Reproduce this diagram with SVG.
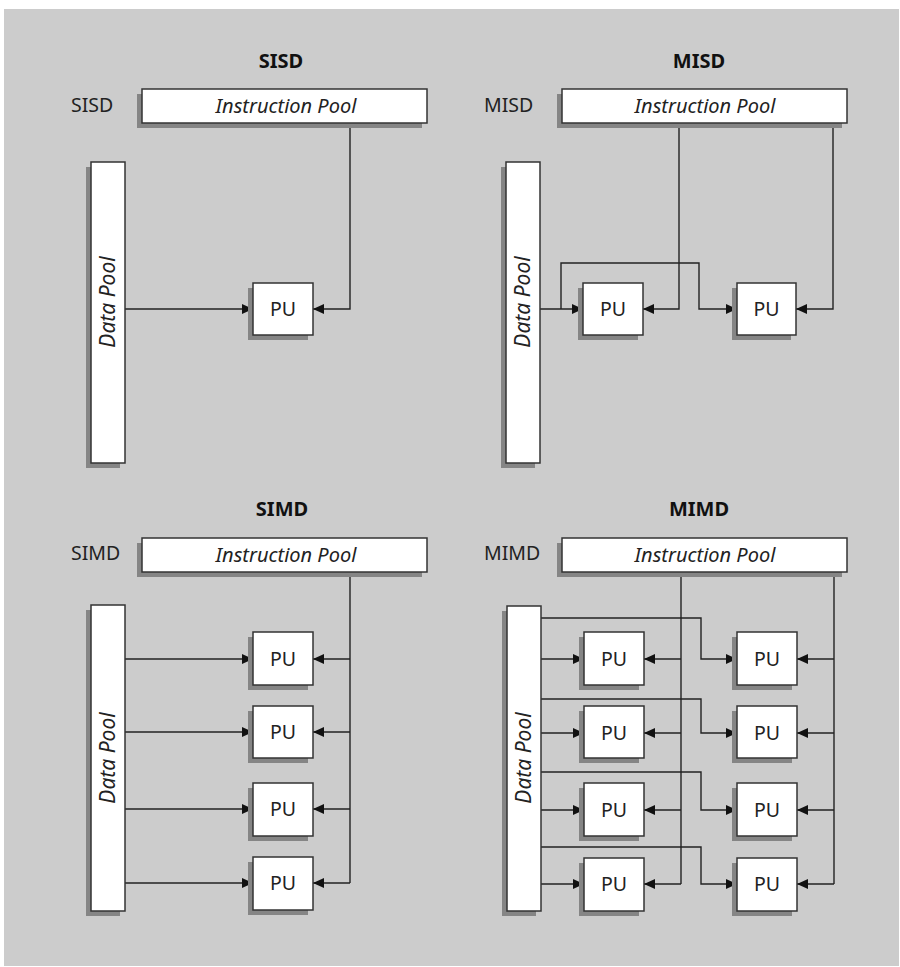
<svg xmlns="http://www.w3.org/2000/svg" width="900" height="967" viewBox="0 0 900 967">
  <defs>
    <marker id="arrow" viewBox="0 0 11 10" refX="11" refY="5" markerWidth="11" markerHeight="10" markerUnits="userSpaceOnUse" orient="auto">
      <path d="M0,0 L11,5 L0,10 Z" fill="#111"/>
    </marker>
    <style>
      .box { fill: #ffffff; stroke: #333333; stroke-width: 1.5; }
      .shadow { fill: #858585; }
      .wire { fill: none; stroke: #222222; stroke-width: 1.4; }
      .arr { marker-end: url(#arrow); }
      .title { font-family: "Noto Sans", "Open Sans", sans-serif; font-weight: bold; font-size: 20px; fill: #111; text-anchor: middle; }
      .tag { font-family: "Noto Sans", "Open Sans", sans-serif; font-size: 19.5px; fill: #222; }
      .pool { font-family: "Noto Sans", "Open Sans", sans-serif; font-style: italic; font-size: 20px; fill: #222; text-anchor: middle; }
      .vpool { font-size: 21px; }
      .pu { font-family: "Noto Sans", "Open Sans", sans-serif; font-size: 19.5px; fill: #222; text-anchor: middle; }
    </style>
  </defs>

  <!-- backdrop -->
  <rect x="4" y="9" width="895" height="957" fill="#cccccc"/>

  <!-- headings and side labels -->
  <g id="labels">
    <text class="title" x="281" y="68">SISD</text>
    <text class="title" x="699" y="68">MISD</text>
    <text class="title" x="282" y="516">SIMD</text>
    <text class="title" x="699" y="516">MIMD</text>
    <text class="tag" x="71" y="112">SISD</text>
    <text class="tag" x="484" y="112">MISD</text>
    <text class="tag" x="71" y="560">SIMD</text>
    <text class="tag" x="484" y="560">MIMD</text>
  </g>

  <!-- connectors -->
  <g id="connectors">
    <!-- SISD -->
    <path class="wire arr" d="M125,309 H253"/>
    <path class="wire arr" d="M350,123 V309 H313"/>

    <!-- MISD -->
    <path class="wire arr" d="M540,309 H583"/>
    <path class="wire arr" d="M561,309 V263 H699 V309 H737"/>
    <path class="wire arr" d="M679,123 V309 H643"/>
    <path class="wire arr" d="M833,123 V309 H796"/>

    <!-- SIMD -->
    <path class="wire arr" d="M125,659 H253"/>
    <path class="wire arr" d="M125,732 H253"/>
    <path class="wire arr" d="M125,809 H253"/>
    <path class="wire arr" d="M125,883 H253"/>
    <path class="wire" d="M350,572 V883"/>
    <path class="wire arr" d="M350,659 H313"/>
    <path class="wire arr" d="M350,732 H313"/>
    <path class="wire arr" d="M350,809 H313"/>
    <path class="wire arr" d="M350,883 H313"/>

    <!-- MIMD -->
    <path class="wire arr" d="M541,659 H584"/>
    <path class="wire arr" d="M541,733 H584"/>
    <path class="wire arr" d="M541,810 H584"/>
    <path class="wire arr" d="M541,884 H584"/>
    <path class="wire arr" d="M541,618 H701 V659 H737"/>
    <path class="wire arr" d="M541,699 H701 V733 H737"/>
    <path class="wire arr" d="M541,772 H701 V810 H737"/>
    <path class="wire arr" d="M541,847 H701 V884 H737"/>
    <path class="wire" d="M681,572 V884"/>
    <path class="wire arr" d="M681,659 H644"/>
    <path class="wire arr" d="M681,733 H644"/>
    <path class="wire arr" d="M681,810 H644"/>
    <path class="wire arr" d="M681,884 H644"/>
    <path class="wire" d="M834,572 V884"/>
    <path class="wire arr" d="M834,659 H797"/>
    <path class="wire arr" d="M834,733 H797"/>
    <path class="wire arr" d="M834,810 H797"/>
    <path class="wire arr" d="M834,884 H797"/>
  </g>

  <!-- SISD nodes -->
  <g id="sisd-instr">
    <rect class="shadow" x="137" y="94" width="285" height="34"/>
    <rect class="box" x="142" y="89" width="285" height="34"/>
    <text class="pool" x="286" y="113">Instruction Pool</text>
  </g>
  <g id="sisd-data">
    <rect class="shadow" x="86" y="167" width="34" height="301"/>
    <rect class="box" x="91" y="162" width="34" height="301"/>
    <text class="pool vpool" transform="translate(115,302) rotate(-90)">Data Pool</text>
  </g>
  <g id="sisd-pu">
    <rect class="shadow" x="248" y="288" width="60" height="52"/>
    <rect class="box" x="253" y="283" width="60" height="52"/>
    <text class="pu" x="283" y="316">PU</text>
  </g>

  <!-- MISD nodes -->
  <g id="misd-instr">
    <rect class="shadow" x="557" y="94" width="285" height="34"/>
    <rect class="box" x="562" y="89" width="285" height="34"/>
    <text class="pool" x="705" y="113">Instruction Pool</text>
  </g>
  <g id="misd-data">
    <rect class="shadow" x="501" y="167" width="34" height="301"/>
    <rect class="box" x="506" y="162" width="34" height="301"/>
    <text class="pool vpool" transform="translate(530,302) rotate(-90)">Data Pool</text>
  </g>
  <g id="misd-pu1">
    <rect class="shadow" x="578" y="288" width="60" height="52"/>
    <rect class="box" x="583" y="283" width="60" height="52"/>
    <text class="pu" x="613" y="316">PU</text>
  </g>
  <g id="misd-pu2">
    <rect class="shadow" x="732" y="288" width="59" height="52"/>
    <rect class="box" x="737" y="283" width="59" height="52"/>
    <text class="pu" x="766.5" y="316">PU</text>
  </g>

  <!-- SIMD nodes -->
  <g id="simd-instr">
    <rect class="shadow" x="137" y="543" width="285" height="34"/>
    <rect class="box" x="142" y="538" width="285" height="34"/>
    <text class="pool" x="286" y="562">Instruction Pool</text>
  </g>
  <g id="simd-data">
    <rect class="shadow" x="86" y="610" width="34" height="306"/>
    <rect class="box" x="91" y="605" width="34" height="306"/>
    <text class="pool vpool" transform="translate(115,758) rotate(-90)">Data Pool</text>
  </g>
  <g id="simd-pu1">
    <rect class="shadow" x="248" y="637" width="60" height="53"/>
    <rect class="box" x="253" y="632" width="60" height="53"/>
    <text class="pu" x="283" y="666">PU</text>
  </g>
  <g id="simd-pu2">
    <rect class="shadow" x="248" y="711" width="60" height="52"/>
    <rect class="box" x="253" y="706" width="60" height="52"/>
    <text class="pu" x="283" y="739">PU</text>
  </g>
  <g id="simd-pu3">
    <rect class="shadow" x="248" y="788" width="60" height="53"/>
    <rect class="box" x="253" y="783" width="60" height="53"/>
    <text class="pu" x="283" y="816">PU</text>
  </g>
  <g id="simd-pu4">
    <rect class="shadow" x="248" y="862" width="60" height="53"/>
    <rect class="box" x="253" y="857" width="60" height="53"/>
    <text class="pu" x="283" y="890">PU</text>
  </g>

  <!-- MIMD nodes -->
  <g id="mimd-instr">
    <rect class="shadow" x="557" y="543" width="285" height="34"/>
    <rect class="box" x="562" y="538" width="285" height="34"/>
    <text class="pool" x="705" y="562">Instruction Pool</text>
  </g>
  <g id="mimd-data">
    <rect class="shadow" x="502" y="611" width="34" height="305"/>
    <rect class="box" x="507" y="606" width="34" height="305"/>
    <text class="pool vpool" transform="translate(531,758) rotate(-90)">Data Pool</text>
  </g>
  <g id="mimd-pu1a">
    <rect class="shadow" x="579" y="637" width="60" height="53"/>
    <rect class="box" x="584" y="632" width="60" height="53"/>
    <text class="pu" x="614" y="666">PU</text>
  </g>
  <g id="mimd-pu1b">
    <rect class="shadow" x="732" y="637" width="60" height="53"/>
    <rect class="box" x="737" y="632" width="60" height="53"/>
    <text class="pu" x="767" y="666">PU</text>
  </g>
  <g id="mimd-pu2a">
    <rect class="shadow" x="579" y="711" width="60" height="52"/>
    <rect class="box" x="584" y="706" width="60" height="52"/>
    <text class="pu" x="614" y="740">PU</text>
  </g>
  <g id="mimd-pu2b">
    <rect class="shadow" x="732" y="711" width="60" height="52"/>
    <rect class="box" x="737" y="706" width="60" height="52"/>
    <text class="pu" x="767" y="740">PU</text>
  </g>
  <g id="mimd-pu3a">
    <rect class="shadow" x="579" y="788" width="60" height="53"/>
    <rect class="box" x="584" y="783" width="60" height="53"/>
    <text class="pu" x="614" y="817">PU</text>
  </g>
  <g id="mimd-pu3b">
    <rect class="shadow" x="732" y="788" width="60" height="53"/>
    <rect class="box" x="737" y="783" width="60" height="53"/>
    <text class="pu" x="767" y="817">PU</text>
  </g>
  <g id="mimd-pu4a">
    <rect class="shadow" x="579" y="863" width="60" height="53"/>
    <rect class="box" x="584" y="858" width="60" height="53"/>
    <text class="pu" x="614" y="891">PU</text>
  </g>
  <g id="mimd-pu4b">
    <rect class="shadow" x="732" y="863" width="60" height="53"/>
    <rect class="box" x="737" y="858" width="60" height="53"/>
    <text class="pu" x="767" y="891">PU</text>
  </g>
</svg>
